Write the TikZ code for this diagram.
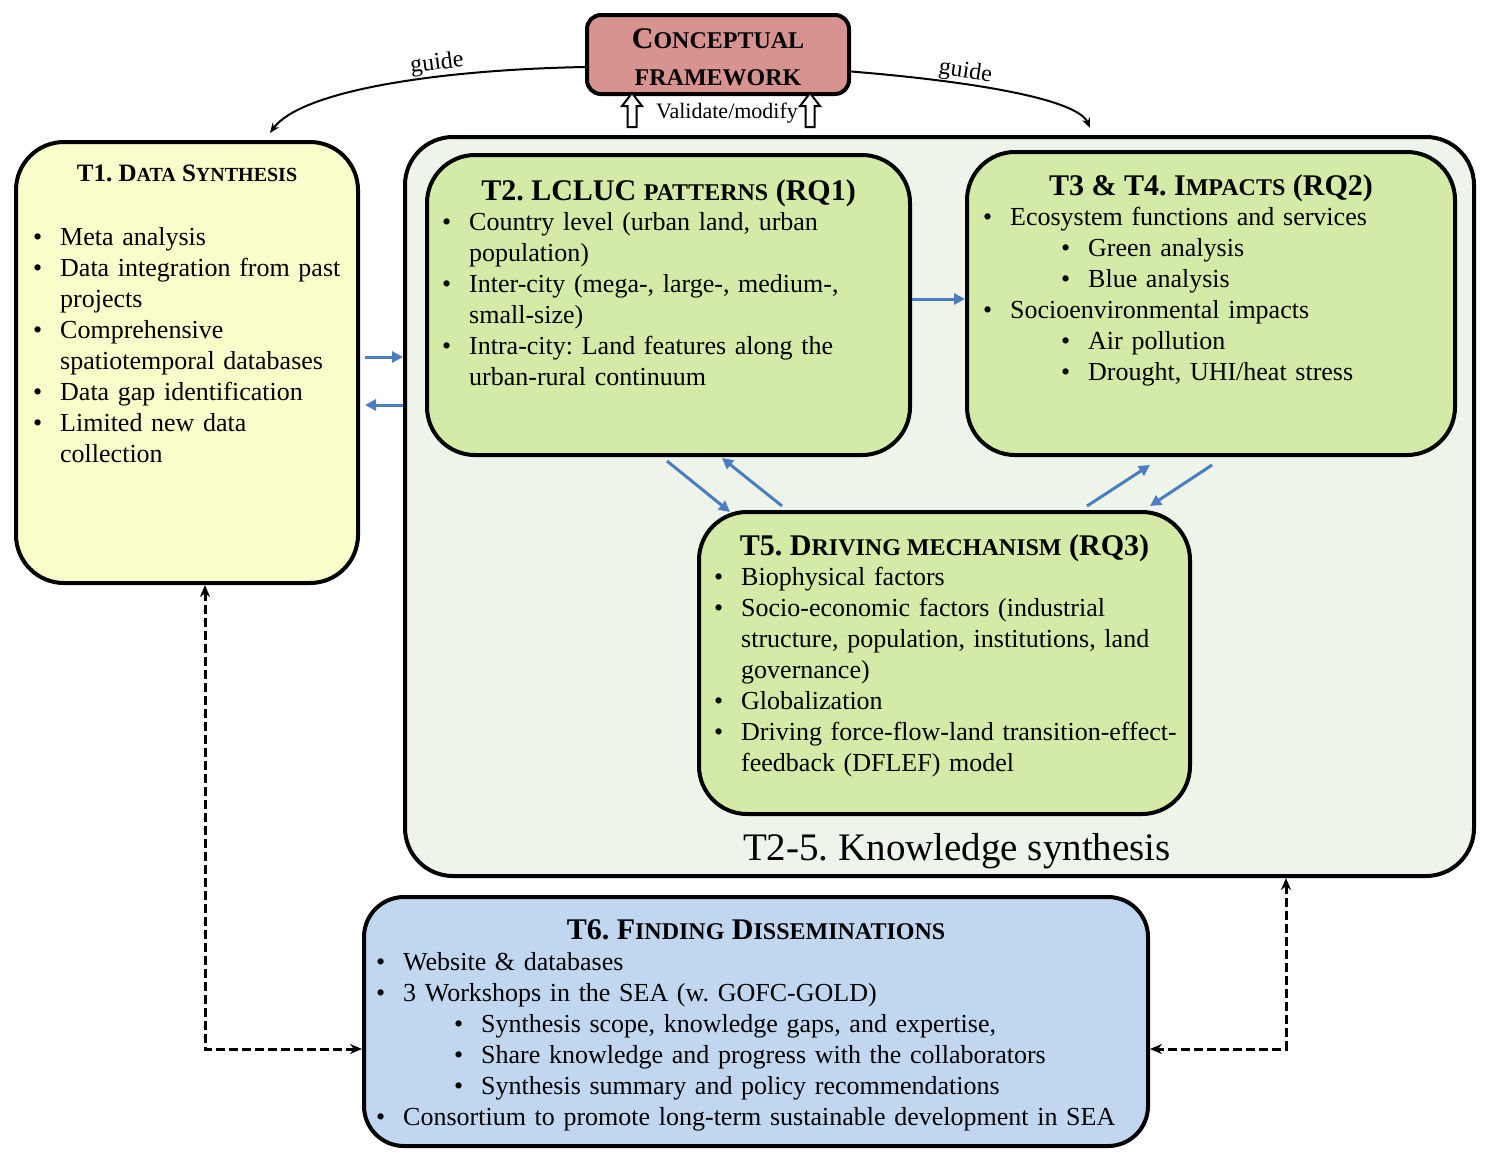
\documentclass[tikz,border=0pt]{standalone}
\usepackage{fontspec}
\setmainfont{Liberation Serif}
\usepackage{xcolor}
\usepackage{tikz}
\usetikzlibrary{arrows.meta, positioning, shapes.arrows}
\definecolor{CFred}{RGB}{214,147,144}
\definecolor{DSyellow}{RGB}{250,252,201}
\definecolor{KSgreen}{RGB}{238,244,233}
\definecolor{RQgreen}{RGB}{211,235,166}
\definecolor{FDblue}{RGB}{193,215,240}
\definecolor{linkblue}{RGB}{74,126,193}
\makeatletter
\newcommand{\smc}[1]{{\fontsize{\fpeval{0.8*\f@size}}{\fpeval{0.96*\f@size}}\selectfont #1}}
\makeatother
\newcommand{\bitem}[1]{\noindent\hangindent=27pt\hangafter=1\makebox[27pt][l]{\textbullet}#1\par}
\newcommand{\sitem}[1]{\noindent\hangindent=105pt\hangafter=1\hspace*{78pt}\makebox[27pt][l]{\textbullet}#1\par}

\begin{document}
\frenchspacing
\begin{tikzpicture}[x=1pt, y=-1pt, >=Stealth,
    box/.style={draw, line width=4pt, rounded corners=48pt, inner sep=0},
    head/.style={font=\bfseries\fontsize{30}{36}\selectfont, inner sep=0, anchor=base},
    items/.style={font=\fontsize{26}{31}\selectfont, inner sep=0, anchor=base west, align=left},
    bluelink/.style={draw=linkblue, line width=3pt, -{Triangle[length=11pt,width=11pt]}},
    dlink/.style={line width=3pt, dash pattern=on 9pt off 4pt, {Stealth[length=12pt,width=10pt]}-{Stealth[length=12pt,width=10pt]}},
    guide/.style={line width=2pt, -{Stealth[length=10pt,width=8pt]}},
    openarrow/.style={single arrow, draw, line width=2pt, fill=white, shape border rotate=90,
      minimum height=34pt, inner sep=3.5pt, single arrow head extend=5.5pt, single arrow tip angle=75}]
  \useasboundingbox (0,0) rectangle (1485,1152);

  % Conceptual framework
  \node[box, fill=CFred, rounded corners=14pt, minimum width=262pt, minimum height=79pt] (cf) at (718,54.5) {};
  \node[font=\bfseries\fontsize{30}{37}\selectfont, align=center, inner sep=0, anchor=base] (cft) at (718,85)
    {C\smc{ONCEPTUAL}\\\smc{FRAMEWORK}};
  \node[openarrow] (va1) at (632,113) {};
  \node[openarrow] (va2) at (810,113) {};
  \node[font=\fontsize{22}{26}\selectfont, inner sep=0] (vtxt) at (727,113) {Validate/modify};

  % T1
  \node[box, fill=DSyellow, minimum width=342pt, minimum height=441pt] (t1) at (187,362.5) {};
  \node[head, font=\bfseries\fontsize{25}{30}\selectfont] (t1h) at ([yshift=-41pt]t1.north) {T1. D\smc{ATA} S\smc{YNTHESIS}};
  \node[items, text width=330pt] (t1l) at (33,245) {%
    \bitem{Meta analysis}
    \bitem{Data integration from past\newline projects}
    \bitem{Comprehensive\newline spatiotemporal databases}
    \bitem{Data gap identification}
    \bitem{Limited new data\newline collection}};

  % Knowledge synthesis
  \node[box, fill=KSgreen, minimum width=1069pt, minimum height=739pt] (ks) at (939.5,506.5) {};
  \node[font=\fontsize{39}{46}\selectfont, inner sep=0, anchor=base] (kst) at (957,860) {T2-5. Knowledge synthesis};

  % T2
  \node[box, fill=RQgreen, minimum width=483pt, minimum height=300pt] (t2) at (668.5,305) {};
  \node[head] (t2h) at ([yshift=-47pt]t2.north) {T2. LCLUC \smc{PATTERNS} (RQ1)};
  \node[items, text width=470pt] (t2l) at (442,230) {%
    \bitem{Country level (urban land, urban\newline population)}
    \bitem{Inter-city (mega-, large-, medium-,\newline small-size)}
    \bitem{Intra-city: Land features along the\newline urban-rural continuum}};

  % T3 & T4
  \node[box, fill=RQgreen, minimum width=488pt, minimum height=303pt] (t3) at (1211,303.5) {};
  \node[head] (t3h) at ([yshift=-45pt]t3.north) {T3 \& T4. I\smc{MPACTS} (RQ2)};
  \node[items, text width=470pt] (t3l) at (983,225) {%
    \bitem{Ecosystem functions and services}
    \sitem{Green analysis}
    \sitem{Blue analysis}
    \bitem{Socioenvironmental impacts}
    \sitem{Air pollution}
    \sitem{Drought, UHI/heat stress}};

  % T5
  \node[box, fill=RQgreen, minimum width=491pt, minimum height=302pt] (t5) at (944.5,663) {};
  \node[head] (t5h) at ([yshift=-45pt]t5.north) {T5. D\smc{RIVING MECHANISM} (RQ3)};
  \node[items, text width=470pt] (t5l) at (714,585) {%
    \bitem{Biophysical factors}
    \bitem{Socio-economic factors (industrial\newline structure, population, institutions, land\newline governance)}
    \bitem{Globalization}
    \bitem{Driving force-flow-land transition-effect-\newline feedback (DFLEF) model}};

  % T6
  \node[box, fill=FDblue, rounded corners=40pt, minimum width=784pt, minimum height=249pt] (t6) at (756,1021.5) {};
  \node[head] (t6h) at ([yshift=-44pt]t6.north) {T6. F\smc{INDING} D\smc{ISSEMINATIONS}};
  \node[items, text width=760pt] (t6l) at (376,970) {%
    \bitem{Website \& databases}
    \bitem{3 Workshops in the SEA (w. GOFC-GOLD)}
    \sitem{Synthesis scope, knowledge gaps, and expertise,}
    \sitem{Share knowledge and progress with the collaborators}
    \sitem{Synthesis summary and policy recommendations}
    \bitem{Consortium to promote long-term sustainable development in SEA}};

  % guide curves
  \draw[guide] ([yshift=-12.5pt]cf.west) .. controls (430,70) and (300,92) .. ([xshift=83pt,yshift=7pt]t1.north)
    node[pos=0.34, sloped, above, inner sep=1pt, font=\fontsize{24}{28}\selectfont] {guide};
  \draw[guide] ([yshift=-17pt]cf.east) .. controls (980,82) and (1078,100) .. ([xshift=150.5pt,yshift=7pt]ks.north)
    node[pos=0.32, sloped, above, inner sep=0pt, font=\fontsize{24}{28}\selectfont] {guide};

  % blue links
  \draw[bluelink] ([xshift=5pt,yshift=5.5pt]t1.east) -- ([yshift=5.5pt]t1.east -| ks.west);
  \draw[bluelink] ([yshift=-42.5pt]t1.east -| ks.west) -- ([xshift=5pt,yshift=-42.5pt]t1.east);
  \draw[bluelink] ([yshift=6pt]t2.east) -- ([yshift=6pt]t2.east -| t3.west);
  \draw[bluelink] ([xshift=-1.5pt,yshift=-4pt]t2.south) -- ([xshift=-214.5pt,yshift=-2pt]t5.north);
  \draw[bluelink] ([xshift=-162.5pt,yshift=4pt]t5.north) -- ([xshift=53.5pt,yshift=-1pt]t2.south);
  \draw[bluelink] ([xshift=142.5pt,yshift=4pt]t5.north) -- ([xshift=-61pt,yshift=-8pt]t3.south);
  \draw[bluelink] ([xshift=1pt,yshift=-8pt]t3.south) -- ([xshift=205.5pt,yshift=4pt]t5.north);

  % dashed links
  \draw[dlink] ([xshift=18pt]t1.south) |- ([yshift=-27.5pt]t6.west);
  \draw[dlink] ([xshift=346.5pt]ks.south) |- ([yshift=-27.5pt]t6.east);
\end{tikzpicture}
\end{document}
